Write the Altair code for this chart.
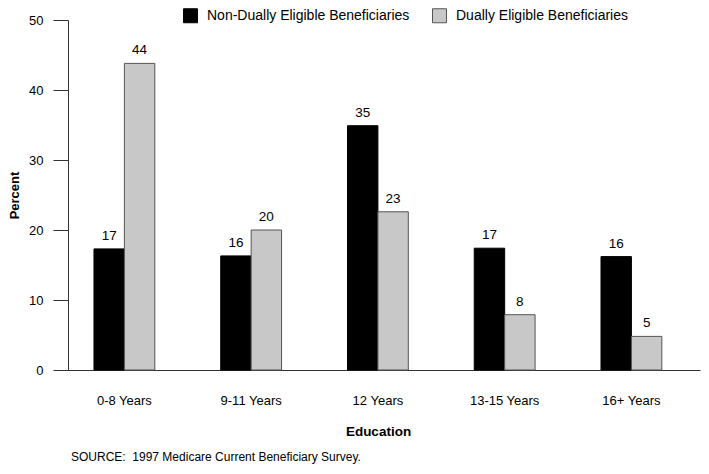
import altair as alt
import pandas as pd

categories = ["0-8 Years", "9-11 Years", "12 Years", "13-15 Years", "16+ Years"]
groups = ["Non-Dually Eligible Beneficiaries", "Dually Eligible Beneficiaries"]
non_dual = [17.3, 16.3, 34.9, 17.4, 16.2]
dual = [43.8, 20.0, 22.6, 7.9, 4.8]
source_note = "SOURCE:\u00a0 1997 Medicare Current Beneficiary Survey."

rows = []
for c, a, b in zip(categories, non_dual, dual):
    rows.append({"Education": c, "Group": groups[0], "Percent": a})
    rows.append({"Education": c, "Group": groups[1], "Percent": b})
df = pd.DataFrame(rows)

FONT = "Liberation Sans"

x_scale = alt.Scale(paddingInner=0.52, paddingOuter=0.253, align=0.405)
x_enc = alt.X("Education:N", sort=categories, scale=x_scale,
              axis=alt.Axis(title="Education", labelAngle=0, ticks=False,
                            labelPadding=24, labelFontSize=13, labelColor="#000",
                            titleFontSize=13.5, titleFontWeight="bold", titleColor="#000",
                            titleX=310, titleY=61, titleBaseline="middle",
                            domainColor="#333", labelFont=FONT, titleFont=FONT))
xoff = alt.XOffset("Group:N", sort=groups)
y_enc = alt.Y("Percent:Q", scale=alt.Scale(domain=[0, 50]),
              axis=alt.Axis(title="Percent", values=[0, 10, 20, 30, 40, 50],
                            tickSize=15, tickColor="#333", domainColor="#333",
                            labelPadding=10, labelFontSize=13, labelColor="#000",
                            titleFontSize=13, titleFontWeight="bold", titleColor="#000",
                            titleX=-50, titleY=175, titleAngle=-90, titleAlign="center",
                            titleBaseline="alphabetic",
                            grid=False, labelFont=FONT, titleFont=FONT))

color = alt.Color("Group:N", sort=groups,
                  scale=alt.Scale(domain=groups, range=["#000000", "#c8c8c8"]),
                  legend=alt.Legend(title=None, orient="none", direction="horizontal",
                                    legendX=115, legendY=-12,
                                    symbolType="square", symbolSize=196,
                                    symbolStrokeColor="#555", symbolStrokeWidth=1,
                                    labelFontSize=14, labelColor="#000", labelFont=FONT,
                                    labelOffset=9, columnPadding=20, labelLimit=400))
stroke = alt.Stroke("Group:N", sort=groups,
                    scale=alt.Scale(domain=groups, range=["#000000", "#555555"]),
                    legend=None)

bars = alt.Chart(df).mark_bar(strokeWidth=1).encode(
    x=x_enc, xOffset=xoff, y=y_enc, color=color, stroke=stroke)

labels = alt.Chart(df).mark_text(baseline="bottom", dy=-6, fontSize=13.5, font=FONT,
                                 color="#000").encode(
    x=alt.X("Education:N", sort=categories), xOffset=xoff, y="Percent:Q",
    text=alt.Text("Percent:Q", format=".0f"))

note = alt.Chart(pd.DataFrame({"t": [source_note]})).mark_text(
    align="left", baseline="middle", fontSize=12, font=FONT, color="#000").encode(
    x=alt.value(3), y=alt.value(437), text="t:N")

chart = alt.layer(bars, labels, note).properties(
    width=632, height=350,
    autosize=alt.AutoSizeParams(type="none"),
    padding={"left": 60, "top": 12, "right": 1, "bottom": 96},
).configure_view(stroke=None)

chart.save("out.html", embed_options={"renderer": "svg", "actions": False})
